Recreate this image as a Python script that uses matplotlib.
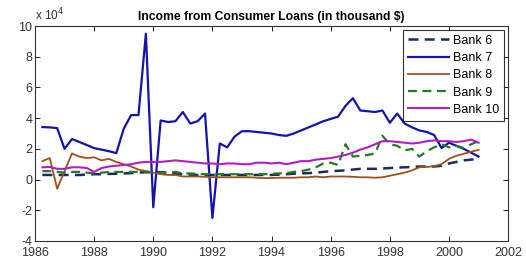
import matplotlib
matplotlib.use('Agg')
import matplotlib.pyplot as plt
import matplotlib.ticker as mticker
import numpy as np

plt.rcParams['font.family'] = ['Liberation Sans', 'DejaVu Sans']

# quarterly, 1986.25 .. 2001.0
years = np.arange(1986.25, 2001.01, 0.25)

# values in units of 10^4 (thousand $)
bank6 = [0.30, 0.30, 0.30, 0.30, 0.30, 0.30, 0.32, 0.35, 0.35, 0.37, 0.38, 0.40,
         0.42, 0.45, 0.48, 0.50, 0.48, 0.45, 0.40, 0.35, 0.32, 0.30, 0.30, 0.30,
         0.30, 0.30, 0.30, 0.30, 0.30, 0.30, 0.30, 0.30, 0.32, 0.35, 0.38, 0.40,
         0.42, 0.45, 0.50, 0.55, 0.57, 0.60, 0.65, 0.70, 0.70, 0.70, 0.72, 0.75,
         0.78, 0.80, 0.82, 0.85, 0.85, 0.85, 0.90, 1.05, 1.15, 1.25, 1.30, 1.35]
bank7 = [3.42, 3.40, 3.35, 2.00, 2.64, 2.45, 2.25, 2.05, 1.95, 1.85, 1.72, 3.30,
         4.20, 4.20, 9.50, -1.80, 3.85, 3.75, 3.80, 4.40, 3.65, 3.80, 4.30, -2.50,
         2.35, 2.10, 2.80, 3.15, 3.15, 3.10, 3.05, 3.00, 2.90, 2.85, 3.00, 3.20,
         3.40, 3.60, 3.80, 3.95, 4.10, 4.80, 5.30, 4.50, 4.45, 4.40, 4.50, 3.70,
         4.30, 3.65, 3.40, 3.20, 3.10, 2.90, 2.05, 2.40, 2.20, 2.00, 1.75, 1.50]
bank8 = [1.20, 1.40, -0.60, 0.55, 1.70, 1.50, 1.40, 1.45, 1.25, 1.35, 1.15, 1.00,
         0.85, 0.65, 0.55, 0.45, 0.35, 0.30, 0.30, 0.20, 0.20, 0.20, 0.18, 0.15,
         0.15, 0.15, 0.15, 0.15, 0.15, 0.12, 0.10, 0.10, 0.12, 0.12, 0.12, 0.15,
         0.15, 0.20, 0.15, 0.20, 0.20, 0.20, 0.18, 0.15, 0.15, 0.12, 0.15, 0.25,
         0.35, 0.45, 0.60, 0.80, 0.82, 0.88, 1.00, 1.35, 1.55, 1.68, 1.82, 1.93]
bank9 = [0.55, 0.55, 0.50, 0.45, 0.50, 0.50, 0.45, 0.40, 0.45, 0.50, 0.50, 0.50,
         0.50, 0.50, 0.50, 0.45, 0.45, 0.45, 0.50, 0.40, 0.40, 0.38, 0.35, 0.35,
         0.35, 0.35, 0.35, 0.35, 0.35, 0.35, 0.35, 0.38, 0.40, 0.42, 0.50, 0.55,
         0.65, 0.80, 1.05, 1.10, 0.95, 2.30, 1.50, 1.55, 1.60, 1.70, 2.85, 2.30,
         2.20, 1.90, 2.00, 1.50, 1.85, 2.10, 2.30, 2.10, 2.20, 2.05, 2.30, 2.50]
bank10 = [0.80, 0.82, 0.70, 0.70, 0.80, 0.80, 0.75, 0.50, 0.75, 0.85, 0.90, 0.95,
          1.00, 1.10, 1.15, 1.15, 1.15, 1.20, 1.25, 1.20, 1.15, 1.10, 1.05, 1.05,
          1.00, 1.05, 1.05, 1.00, 1.00, 1.10, 1.10, 1.05, 1.10, 1.00, 1.10, 1.20,
          1.20, 1.30, 1.35, 1.40, 1.50, 1.60, 1.75, 1.95, 2.10, 2.30, 2.50, 2.50,
          2.45, 2.40, 2.35, 2.40, 2.50, 2.55, 2.50, 2.50, 2.45, 2.50, 2.60, 2.40]

series = [('Bank 6', bank6, '#1c2b5a', '--', 1.8),
          ('Bank 7', bank7, '#1414a8', '-', 1.6),
          ('Bank 8', bank8, '#a0501e', '-', 1.3),
          ('Bank 9', bank9, '#237a23', '--', 1.6),
          ('Bank 10', bank10, '#b41ec0', '-', 1.5)]

fig = plt.figure(figsize=(5.26, 2.63), dpi=100)
ax = fig.add_axes([0.0665, 0.0837, 0.8995, 0.8173])

for name, vals, col, ls, lw in series:
    ax.plot(years, np.array(vals) * 1e4, color=col, linestyle=ls, linewidth=lw,
            label=name, dashes=(4, 2.5) if ls == '--' else (None, None))

ax.set_xlim(1986, 2002)
ax.set_ylim(-4e4, 10e4)
ax.set_xticks(np.arange(1986, 2003, 2))
ax.set_yticks(np.arange(-4e4, 10.1e4, 2e4))
ax.yaxis.set_major_formatter(mticker.FuncFormatter(lambda v, p: '%d' % round(v / 1e4)))
ax.text(0.0, 1.015, 'x 10$^4$', transform=ax.transAxes, fontsize=8.5,
        color='#333333', ha='left', va='bottom')

ax.tick_params(direction='in', top=True, right=True, length=3.5, width=0.6,
               labelsize=9, labelcolor='#333333', pad=2)
ax.tick_params(axis='x', pad=4.6)
for s in ax.spines.values():
    s.set_linewidth(0.8)
    s.set_color('#333333')

ax.set_title('Income from Consumer Loans (in thousand $)', fontsize=8.7,
             fontweight='bold', pad=4)

leg = ax.legend(loc='upper right', fontsize=9, handlelength=3.3,
                borderaxespad=0.3, frameon=True, fancybox=False,
                labelspacing=0.42, borderpad=0.4, handletextpad=0.3)
leg.get_frame().set_edgecolor('black')
leg.get_frame().set_linewidth(0.8)

fig.savefig('out.png', dpi=100)
